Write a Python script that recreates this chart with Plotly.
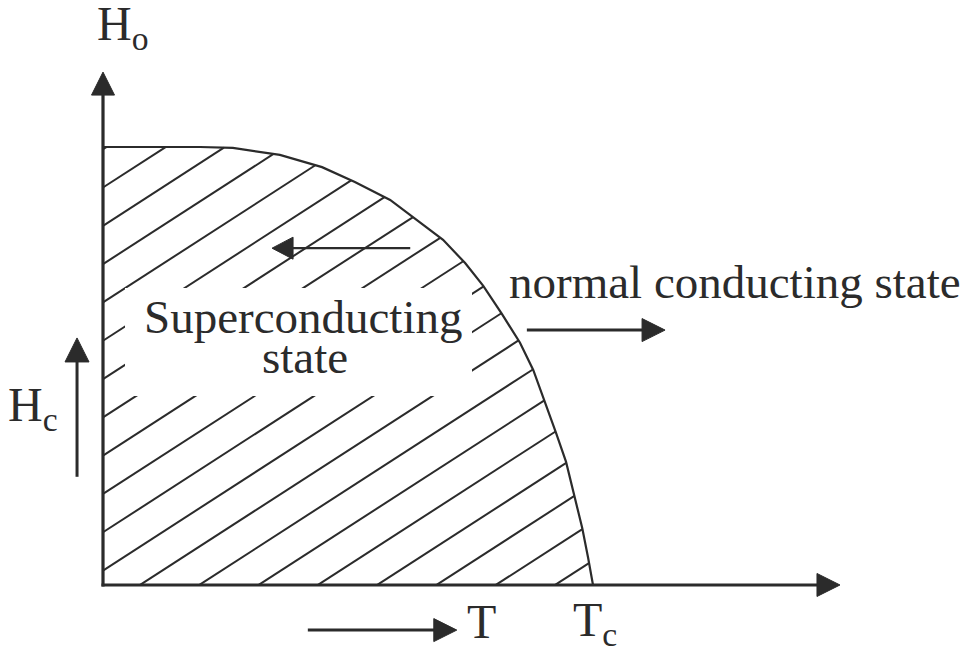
import numpy as np
import plotly.graph_objects as go

# ---- data (T/Tc, H/Ho) ----
t_over_tc = [0.0, 0.198, 0.265, 0.361, 0.447, 0.514, 0.586, 0.633, 0.694, 0.739,
             0.776, 0.814, 0.851, 0.878, 0.902, 0.924, 0.945, 0.961, 0.978, 0.990, 1.0]
h_over_ho = [1.0, 1.0, 0.998, 0.982, 0.954, 0.920, 0.879, 0.840, 0.788, 0.735,
             0.683, 0.619, 0.553, 0.491, 0.418, 0.349, 0.281, 0.208, 0.130, 0.062, 0.0]

labels_text = {
    "ho": "H<sub>o</sub>",
    "hc": "H<sub>c</sub>",
    "t": "T",
    "tc": "T<sub>c</sub>",
    "normal": "normal conducting state",
    "super1": "Superconducting",
    "super2": "state",
}

W, H = 969, 647
X0, X1 = -0.2102, 1.7673
Y0, Y1 = -0.1416, 1.3356


def dx(p):
    return p * (X1 - X0) / W


def dy(p):
    return p * (Y1 - Y0) / H


INK = "#2b2b2b"
FONT = "Liberation Serif, Times New Roman, serif"

tc = np.array(t_over_tc)
hc = np.array(h_over_ho)

# ---- hatch lines clipped to the region under the curve ----
slope = 0.646 * dy(1) / dx(1)      # pixel slope 0.646 expressed in data units
step = dx(59.3)                    # spacing of hatch lines along T axis
t_start = dx(37)
dense_t = np.linspace(0, 1, 4001)
dense_h = np.interp(dense_t, tc, hc)
hx, hy = [], []
for k in range(-14, 10):
    tk = t_start + k * step
    line_h = slope * (dense_t - tk)
    inside = (line_h >= 0) & (line_h <= dense_h)
    if not inside.any():
        continue
    idx = np.where(inside)[0]
    ta, tb = dense_t[idx[0]], dense_t[idx[-1]]
    hx += [ta, tb, None]
    hy += [slope * (ta - tk), slope * (tb - tk), None]

fig = go.Figure()
fig.add_trace(go.Scatter(x=hx, y=hy, mode="lines",
                         line=dict(color=INK, width=2), hoverinfo="skip"))
fig.add_trace(go.Scatter(x=t_over_tc, y=h_over_ho, mode="lines",
                         line=dict(color=INK, width=2.2), hoverinfo="skip"))

shapes = []
# white area behind the "Superconducting state" text
shapes.append(dict(type="rect", xref="x", yref="y", layer="above",
                   x0=dx(22), x1=dx(369), y0=dy(189), y1=dy(297),
                   fillcolor="white", line=dict(width=0)))


def arrow(x0, y0, x1, y1, width, head_len=23, head_half=11.5):
    vx, vy = (x1 - x0) / dx(1), (y1 - y0) / dy(1)
    n = np.hypot(vx, vy)
    ux, uy = vx / n, vy / n
    bx, by = x1 - dx(head_len * ux), y1 - dy(head_len * uy)
    shapes.append(dict(type="line", xref="x", yref="y", layer="above",
                       x0=x0, y0=y0, x1=x1 - dx((head_len - 3) * ux),
                       y1=y1 - dy((head_len - 3) * uy),
                       line=dict(color=INK, width=width)))
    px, py = -uy, ux
    p1 = (bx + dx(head_half * px), by + dy(head_half * py))
    p2 = (bx - dx(head_half * px), by - dy(head_half * py))
    path = f"M {x1},{y1} L {p1[0]},{p1[1]} L {p2[0]},{p2[1]} Z"
    shapes.append(dict(type="path", xref="x", yref="y", layer="above", path=path,
                       fillcolor=INK, line=dict(color=INK, width=1)))


# axes
arrow(-dx(1.5), 0, 1.504, 0, 3.2)
arrow(0, -dy(1.5), 0, 1.171, 3.2)
# inner arrows
arrow(0.627, 0.769, 0.345, 0.769, 2.4, head_len=21, head_half=11)
arrow(0.865, 0.582, 1.147, 0.582, 3, head_len=23, head_half=11.5)
arrow(0.418, -0.103, 0.722, -0.103, 3, head_len=23, head_half=11.5)
arrow(-0.053, 0.247, -0.053, 0.564, 3, head_len=24, head_half=12)

ann = []


def label(text, x, y, size, xanchor="center"):
    ann.append(dict(text=text, x=x, y=y, xref="x", yref="y", showarrow=False,
                    xanchor=xanchor, yanchor="middle",
                    font=dict(family=FONT, size=size, color=INK)))


label(labels_text["ho"], -0.0163, 1.274, 48, "left")
label(labels_text["hc"], -0.198, 0.403, 48, "left")
label(labels_text["t"], 0.739, -0.0845, 48, "left")
label(labels_text["tc"], 0.955, -0.087, 48, "left")
label(labels_text["normal"], 0.8245, 0.692, 47, "left")
label(labels_text["super1"], 0.410, 0.612, 47)
label(labels_text["super2"], 0.412, 0.5205, 47)

fig.update_layout(
    width=W, height=H, autosize=False,
    margin=dict(l=0, r=0, t=0, b=0),
    paper_bgcolor="white", plot_bgcolor="white",
    showlegend=False,
    xaxis=dict(range=[X0, X1], visible=False, fixedrange=True),
    yaxis=dict(range=[Y0, Y1], visible=False, fixedrange=True),
    shapes=shapes, annotations=ann,
)
fig.write_html("out.html", config={"displayModeBar": False},
               post_script="document.body.style.margin='0px';document.body.style.overflow='hidden';")
